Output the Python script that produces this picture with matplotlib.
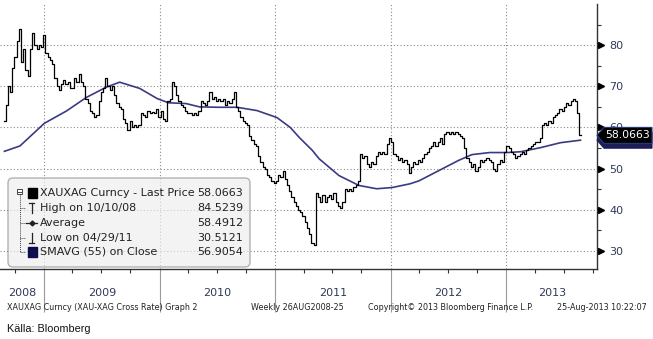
import numpy as np
import pandas as pd
import matplotlib
matplotlib.use('Agg')
import matplotlib.pyplot as plt
import matplotlib.dates as mdates
import matplotlib.transforms as mtransforms
from matplotlib.patches import FancyBboxPatch, Polygon, Rectangle
from matplotlib.lines import Line2D

W, H, DPI = 653, 339, 100

# weekly closes of the gold/silver ratio, 29 Aug 2008 .. 23 Aug 2013
close = [
    61.5, 65.5, 70.0, 68.5, 74.5, 77.0, 81.0, 84.0, 76.0, 79.0,
    74.0, 72.5, 79.0, 83.0, 80.0, 79.0, 80.0, 79.5, 82.5, 78.0,
    77.0, 76.5, 75.5, 72.0, 70.0, 69.0, 70.5, 71.5, 70.5, 71.0,
    69.5, 69.5, 72.0, 71.0, 73.0, 71.0, 70.0, 67.0, 66.0, 64.0,
    63.5, 62.5, 63.0, 66.5, 68.5, 69.5, 72.0, 70.0, 69.0, 70.0,
    68.0, 66.0, 65.0, 64.5, 62.0, 61.0, 59.5, 61.5, 60.0, 60.5,
    60.0, 60.5, 63.5, 63.0, 62.5, 64.0, 63.5, 63.8, 63.5, 64.5,
    62.5, 64.0, 62.0, 61.5, 66.5, 67.0, 71.0, 70.0, 68.0, 66.5,
    65.5, 65.0, 64.0, 63.5, 63.5, 63.0, 63.5, 63.0, 64.0, 66.5,
    66.0, 65.5, 66.5, 68.5, 67.0, 67.5, 66.5, 67.0, 66.5, 67.0,
    65.5, 66.5, 66.0, 67.0, 68.5, 65.0, 64.0, 62.5, 61.5, 61.0,
    60.5, 58.0, 57.0, 56.0, 55.5, 53.0, 51.5, 50.5, 50.0, 48.5,
    48.0, 47.0, 46.5, 47.0, 48.5, 48.0, 49.5, 47.5, 46.0, 44.5,
    43.0, 42.0, 41.0, 40.0, 39.5, 38.5, 37.0, 35.5, 34.0, 32.0,
    31.5, 44.0, 43.0, 42.0, 43.5, 42.0, 43.0, 43.5, 42.5, 44.0,
    42.0, 41.0, 40.5, 42.0, 45.0, 44.5, 45.0, 44.5, 45.5, 46.0,
    47.0, 53.5, 52.5, 53.0, 51.0, 50.5, 51.5, 51.0, 53.0, 54.0,
    53.5, 54.0, 53.5, 56.0, 57.5, 56.5, 53.5, 53.0, 52.0, 52.5,
    51.5, 52.0, 51.0, 49.0, 50.5, 51.5, 51.0, 52.0, 51.5, 52.5,
    53.5, 54.0, 55.0, 55.5, 56.5, 55.5, 56.5, 57.5, 56.0, 58.5,
    59.0, 58.5, 59.0, 58.5, 59.0, 58.5, 58.0, 57.5, 55.0, 52.5,
    51.5, 50.5, 51.0, 49.5, 50.5, 52.0, 51.5, 52.0, 52.5, 52.0,
    51.5, 50.0, 49.5, 51.0, 52.0, 51.5, 54.0, 55.5, 55.0, 54.0,
    53.5, 52.5, 53.0, 53.5, 54.0, 53.5, 54.5, 55.0, 55.5, 56.0,
    56.5, 56.5, 57.5, 60.5, 61.0, 60.5, 61.5, 61.0, 62.5, 63.0,
    63.5, 64.5, 64.0, 65.0, 66.0, 65.5, 66.5, 67.0, 66.5, 63.5,
    58.0663,
]
first_week = '2008-08-29'

# 55-week simple moving average on close
sma_dates = [
    '2008-08-29', '2008-10-17', '2009-01-02', '2009-03-13', '2009-05-15',
    '2009-07-17', '2009-08-28', '2009-10-30', '2009-12-25', '2010-01-29',
    '2010-03-26', '2010-05-07', '2010-07-09', '2010-09-03', '2010-11-05',
    '2011-01-07', '2011-02-18', '2011-03-18', '2011-04-29', '2011-05-20',
    '2011-07-22', '2011-09-23', '2011-11-18', '2012-01-06', '2012-03-02',
    '2012-03-30', '2012-06-01', '2012-08-03', '2012-09-14', '2012-11-09',
    '2013-01-04', '2013-02-15', '2013-04-19', '2013-06-21', '2013-08-23',
]
sma_values = [
    54.2, 55.5, 61.0, 64.0, 67.3, 69.8, 71.0, 69.5, 67.0, 66.0,
    65.8, 65.0, 64.9, 64.9, 64.1, 62.4, 60.0, 57.6, 54.4, 52.4,
    48.3, 45.9, 45.1, 45.4, 46.3, 47.0, 49.5, 52.0, 53.4, 53.9,
    53.9, 54.1, 55.1, 56.3, 56.9054,
]

y_ticks = [30, 40, 50, 60, 70, 80]
years = [2008, 2009, 2010, 2011, 2012, 2013]
legend_labels = ['XAUXAG Curncy - Last Price', 'High on 10/10/08', 'Average',
                 'Low on 04/29/11', 'SMAVG (55) on Close']
legend_values = ['58.0663', '84.5239', '58.4912', '30.5121', '56.9054']
last_price = 58.0663
last_sma = 56.9054

NAVY = '#3a3a82'
LABEL = '#2f3b57'

fig = plt.figure(figsize=(W / DPI, H / DPI), dpi=DPI)
# pixel coordinates measured from the top-left corner of the figure
px = mtransforms.Affine2D().scale(1 / DPI, -1 / DPI).translate(0, H / DPI) + fig.dpi_scale_trans

ax = fig.add_axes([0, 1 - 269 / H, 597 / W, 265 / H])

dates = pd.date_range(first_week, periods=len(close), freq='7D')
ax.step(dates, close, where='mid', color='black', lw=0.9, zorder=3)
ax.plot(pd.to_datetime(sma_dates), sma_values, color=NAVY, lw=1.2, zorder=2)

x0, x1 = pd.Timestamp('2008-08-15'), pd.Timestamp('2013-10-14')
ax.set_xlim(x0, x1)
ax.set_ylim(25.6, 90.0)

for s in ('left', 'top'):
    ax.spines[s].set_visible(False)
for s in ('right', 'bottom'):
    ax.spines[s].set_color('#333333')
    ax.spines[s].set_linewidth(1.0)

# x axis: long grey year separators, short quarter ticks
ax.xaxis.set_major_locator(mdates.YearLocator())
ax.xaxis.set_minor_locator(mdates.MonthLocator(bymonth=[1, 4, 7, 10]))
ax.xaxis.set_major_formatter(plt.NullFormatter())
ax.tick_params(axis='x', which='major', length=31, width=0.8, color='#9a9a9a', direction='out')
ax.tick_params(axis='x', which='minor', length=3, width=0.8, color='#333333', direction='out')

# y axis on the right with arrow markers at the labelled values
ax.yaxis.tick_right()
ax.set_yticks(y_ticks)
ax.set_yticklabels([str(v) for v in y_ticks])
ax.set_yticks(np.arange(35, 90, 10), minor=True)
ax.tick_params(axis='y', which='major', length=0, pad=9, labelsize=8, labelcolor=LABEL)
ax.tick_params(axis='y', which='minor', length=3, width=0.8, color='#333333', direction='out')
ax.plot([1 + 3.5 / 597] * len(y_ticks), y_ticks, ls='none', marker='>', ms=5,
        color='black', transform=ax.get_yaxis_transform(), clip_on=False, zorder=5)

ax.grid(which='major', axis='both', ls=(0, (1, 2)), color='#8a8a8a', lw=0.8)
ax.set_axisbelow(True)

# year names centred on the visible part of each year
for yr in years:
    a = max(pd.Timestamp(f'{yr}-01-01'), x0)
    b = min(pd.Timestamp(f'{yr + 1}-01-01'), x1)
    mid = a + (b - a) / 2
    ax.text(mid, -24 / 265, str(yr), transform=ax.get_xaxis_transform(),
            ha='center', va='center', fontsize=8, color=LABEL)

# value tags on the right edge
def tag(value, face, edge, zorder):
    py = H - ax.transData.transform((0, value))[1]
    poly = Polygon([(597, py), (604, py - 8), (652, py - 8), (652, py + 8), (604, py + 8)],
                   closed=True, transform=px, facecolor=face, edgecolor=edge, lw=0.8,
                   zorder=zorder)
    fig.add_artist(poly)
    fig.text(628, py, f'{value:.4f}', transform=px, ha='center', va='center',
             fontsize=7.8, color='white', zorder=zorder + 0.1)

tag(last_sma, '#1d1d5a', '#1d1d5a', 10)
tag(last_price, 'black', '#233b7a', 11)

# legend panel
box = FancyBboxPatch((8, 178), 242, 89, boxstyle='round,pad=0,rounding_size=5',
                     transform=px, facecolor='#eeeeee', edgecolor='#8c8c8c', lw=1.0,
                     alpha=0.65, zorder=6)
fig.add_artist(box)
rows_y = [193, 208, 223, 238, 252]
for i, (lab, val) in enumerate(zip(legend_labels, legend_values)):
    fig.text(40, rows_y[i], lab, transform=px, ha='left', va='center', fontsize=8,
             color='#222222', zorder=8)
    fig.text(243, rows_y[i], val, transform=px, ha='right', va='center', fontsize=8,
             color='#222222', zorder=8)

# tree connector and row symbols
tree = dict(transform=px, color='#444444', lw=0.7, zorder=8)
fig.add_artist(Rectangle((17, 189), 5, 5, transform=px, facecolor='white',
                         edgecolor='#444444', lw=0.7, zorder=8))
fig.add_artist(Line2D([18, 21], [191.5, 191.5], **tree))
fig.add_artist(Line2D([19.5, 19.5], [194, rows_y[-1]], ls=(0, (1, 1)), **tree))
for ry in rows_y[1:]:
    fig.add_artist(Line2D([19.5, 25], [ry, ry], ls=(0, (1, 1)), **tree))
fig.add_artist(Rectangle((28, 188), 9, 10, transform=px, facecolor='black', edgecolor='black', zorder=8))
fig.add_artist(Rectangle((28, 247), 9, 10, transform=px, facecolor='#0d0d4d', edgecolor='#0d0d4d', zorder=8))
sym = dict(transform=px, color='#222222', lw=0.9, zorder=8)
# high
fig.add_artist(Line2D([29, 34], [203, 203], **sym))
fig.add_artist(Line2D([31.5, 31.5], [203, 213], **sym))
# average
fig.add_artist(Line2D([26, 37], [223, 223], **sym))
fig.add_artist(Line2D([31.5], [223], marker='D', ms=2.5, **sym))
# low
fig.add_artist(Line2D([31.5, 31.5], [233, 243], **sym))
fig.add_artist(Line2D([29, 34], [243, 243], **sym))

# footer
foot = dict(transform=px, va='center', fontsize=5.8, color='#222222')
fig.text(7, 308, 'XAUXAG Curncy (XAU-XAG Cross Rate) Graph 2', ha='left', **foot)
fig.text(251, 308, 'Weekly 26AUG2008-25', ha='left', **foot)
fig.text(368, 308, 'Copyright\u00a9 2013 Bloomberg Finance L.P.', ha='left', **foot)
fig.text(647, 308, '25-Aug-2013 10:22:07', ha='right', **foot)
fig.text(7, 329, 'K\u00e4lla: Bloomberg', transform=px, ha='left', va='center',
         fontsize=7.8, color='#111111', family=['Liberation Sans Narrow', 'Liberation Sans'])

fig.savefig('out.png', dpi=DPI)
